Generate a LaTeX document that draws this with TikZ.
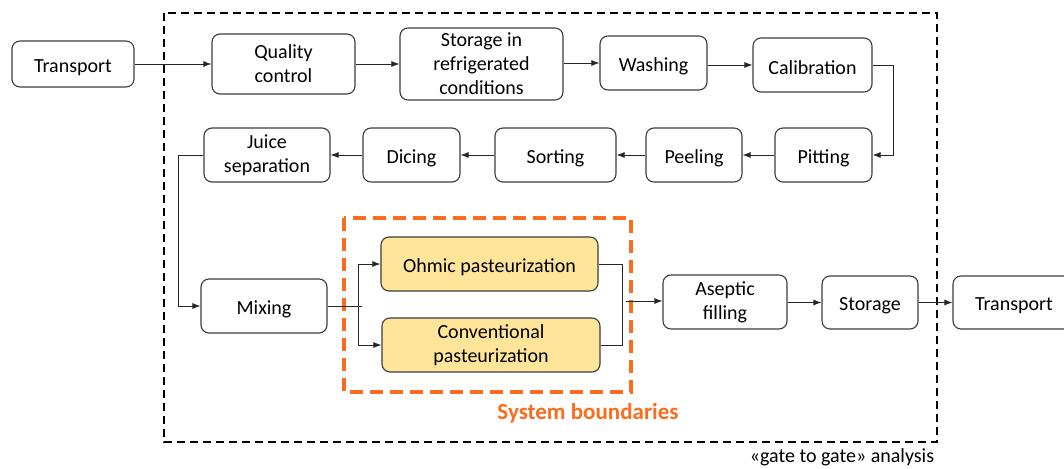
\documentclass[tikz,border=0pt]{standalone}
\usepackage{fontspec}
\setmainfont{Carlito}
\usetikzlibrary{arrows.meta}
\definecolor{boxline}{RGB}{60,60,60}
\definecolor{paleyellow}{RGB}{255,229,153}
\definecolor{sysorange}{RGB}{250,108,30}
\tikzset{
  procbox/.style={draw=boxline, line width=1.1pt, rounded corners=8pt, fill=white, align=center,
    inner sep=0pt, font=\fontsize{20}{24}\selectfont,
    execute at begin node={\rule{0pt}{20pt}}},
  hotbox/.style={procbox, fill=paleyellow},
  flow/.style={draw=black!85, line width=0.9pt},
  flowarrow/.style={flow, -{Latex[length=8pt,width=6pt]}},
}
\begin{document}
\begin{tikzpicture}[x=1pt,y=-1pt]
\useasboundingbox (0,0) rectangle (1064,468);
% boundaries
\draw[black, line width=1.8pt, dash pattern=on 8pt off 5pt] (164,13) rectangle (937,442);
\draw[sysorange, line width=3.4pt, dash pattern=on 13pt off 7pt] (344,218) rectangle (631,392);
\node[font=\fontsize{23}{26}\selectfont\bfseries, text=sysorange] (sys) at (588,413) {System boundaries};
\node[font=\fontsize{20}{24}\selectfont] (gate) at (842,457) {«gate to gate» analysis};
% boxes
\node[procbox, minimum width=122pt, minimum height=46pt] (t1) at (73,64) {Transport};
\node[procbox, minimum width=143pt, minimum height=60pt] (qc) at (283.5,64) {Quality\\control};
\node[procbox, minimum width=163pt, minimum height=72pt] (sr) at (481.5,64) {Storage in\\refrigerated\\conditions};
\node[procbox, minimum width=107pt, minimum height=54pt] (wa) at (653.5,63) {Washing};
\node[procbox, minimum width=119pt, minimum height=54pt] (ca) at (812.5,65) {Calibration};
\node[procbox, minimum width=97pt, minimum height=54pt] (pi) at (823.5,155) {Pitting};
\node[procbox, minimum width=96pt, minimum height=54pt] (pe) at (694,155) {Peeling};
\node[procbox, minimum width=121pt, minimum height=54pt] (so) at (555.5,155) {Sorting};
\node[procbox, minimum width=97pt, minimum height=54pt] (di) at (411.5,155) {Dicing};
\node[procbox, minimum width=126pt, minimum height=54pt] (js) at (267,155) {Juice\\separation};
\node[procbox, minimum width=126pt, minimum height=54pt] (mx) at (264,306) {Mixing};
\node[hotbox, minimum width=217pt, minimum height=54pt] (oh) at (489.5,264) {Ohmic pasteurization};
\node[hotbox, minimum width=218pt, minimum height=54pt] (cv) at (491,345) {Conventional\\pasteurization};
\node[procbox, minimum width=124pt, minimum height=54pt] (af) at (725,302) {Aseptic\\filling};
\node[procbox, minimum width=96pt, minimum height=53pt] (st) at (870,302.5) {Storage};
\node[procbox, minimum width=122pt, minimum height=53pt] (t2) at (1014,302.5) {Transport};
% junction coordinates
\coordinate (jm) at (358,306);
\coordinate (jmend) at (362,306);
\coordinate (jo) at (622,301);
\coordinate (joend) at (626,301);
% connectors
\draw[flowarrow] (t1) -- (qc);
\draw[flowarrow] (qc) -- (sr);
\draw[flowarrow] (sr.east |- wa) -- (wa);
\draw[flowarrow] (wa.east |- ca) -- (ca);
\draw[flowarrow] (ca.east) -- ++(21,0) |- (pi.east);
\draw[flowarrow] (pi) -- (pe);
\draw[flowarrow] (pe) -- (so);
\draw[flowarrow] (so) -- (di);
\draw[flowarrow] (di) -- (js);
\draw[flowarrow] (js.west) -- ++(-25,0) |- (mx.west);
\draw[flow] (mx.east) -- (jmend);
\draw[flowarrow] (jm) |- (oh.west);
\draw[flowarrow] (jm) |- (cv.west);
\draw[flow] (oh.east) -| (jo);
\draw[flow] (cv.east) -| (jo);
\draw[flowarrow] (joend) -- (af.west |- joend);
\draw[flowarrow] (af.east |- st) -- (st);
\draw[flowarrow] (st) -- (t2);
\end{tikzpicture}
\end{document}
